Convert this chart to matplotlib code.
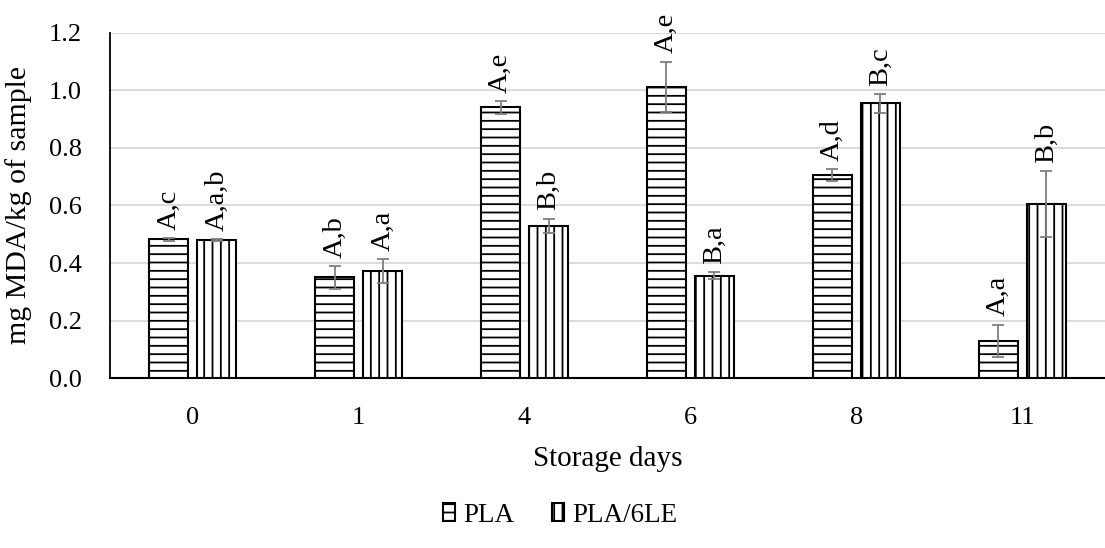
import numpy as np
import matplotlib
matplotlib.use("Agg")
import matplotlib.pyplot as plt

plt.rcParams['font.family'] = ['Liberation Serif', 'DejaVu Serif']
plt.rcParams['hatch.linewidth'] = 1.3

# datos
days = ['0', '1', '4', '6', '8', '11']
pla = [0.482, 0.350, 0.941, 1.013, 0.706, 0.130]
pla_err = [0.005, 0.039, 0.022, 0.087, 0.021, 0.056]
pla6le = [0.480, 0.372, 0.529, 0.355, 0.955, 0.605]
pla6le_err = [0.003, 0.042, 0.025, 0.012, 0.033, 0.115]
pla_lbl = ['A,c', 'A,b', 'A,e', 'A,e', 'A,d', 'A,a']
pla6le_lbl = ['A,a,b', 'A,a', 'B,b', 'B,a', 'B,c', 'B,b']

fig = plt.figure(figsize=(11.05, 5.48), dpi=100)
ax = fig.add_axes([0.0995, 0.3102, 0.9005, 0.6296])

x = np.arange(len(days))
w = 0.235
off = 0.145

b1 = ax.bar(x - off, pla, w, color='white', edgecolor='black', hatch='--', linewidth=1.5,
            zorder=3, label='PLA')
b2 = ax.bar(x + off, pla6le, w, color='white', edgecolor='black', hatch='||', linewidth=1.5,
            zorder=3, label='PLA/6LE')
ax.errorbar(x - off, pla, yerr=pla_err, fmt='none', ecolor='#7f7f7f', elinewidth=1.3,
            capsize=4.3, capthick=1.3, zorder=4)
ax.errorbar(x + off, pla6le, yerr=pla6le_err, fmt='none', ecolor='#7f7f7f', elinewidth=1.3,
            capsize=4.3, capthick=1.3, zorder=4)

for i in range(len(days)):
    ax.annotate(pla_lbl[i], (x[i] - off, pla[i] + pla_err[i]), xytext=(0, 6),
                textcoords='offset points', rotation=90, ha='center', va='bottom', fontsize=20.5)
    ax.annotate(pla6le_lbl[i], (x[i] + off, pla6le[i] + pla6le_err[i]), xytext=(0, 6),
                textcoords='offset points', rotation=90, ha='center', va='bottom', fontsize=20.5)

ax.set_xlim(-0.5, len(days) - 0.5)
ax.set_ylim(0, 1.2)
ax.set_yticks(np.arange(0, 1.21, 0.2))
ax.set_yticklabels([f'{v:.1f}' for v in np.arange(0, 1.21, 0.2)])
ax.set_xticks(x)
ax.set_xticklabels(days)
ax.tick_params(axis='both', length=0, labelsize=19)
ax.tick_params(axis='x', pad=21)
ax.tick_params(axis='y', pad=20)
ax.yaxis.grid(True, color='#d9d9d9', linewidth=1.3, zorder=0)
ax.set_axisbelow(True)
for s in ['top', 'right']:
    ax.spines[s].set_visible(False)
ax.spines['left'].set_linewidth(1.3)
ax.spines['bottom'].set_linewidth(1.5)

ax.set_ylabel('mg MDA/kg of sample', fontsize=21.5)
ax.yaxis.set_label_coords(-0.078, 0.5)
ax.set_xlabel('Storage days', fontsize=21)
ax.xaxis.set_label_coords(0.5, -0.198)

fig.legend(handles=[b1, b2], loc='center', bbox_to_anchor=(0.507, 0.06), ncol=2, frameon=False,
           fontsize=19.5, handlelength=0.45, handleheight=0.6, handletextpad=0.3, columnspacing=1.4)

fig.savefig('out.png', dpi=100)
